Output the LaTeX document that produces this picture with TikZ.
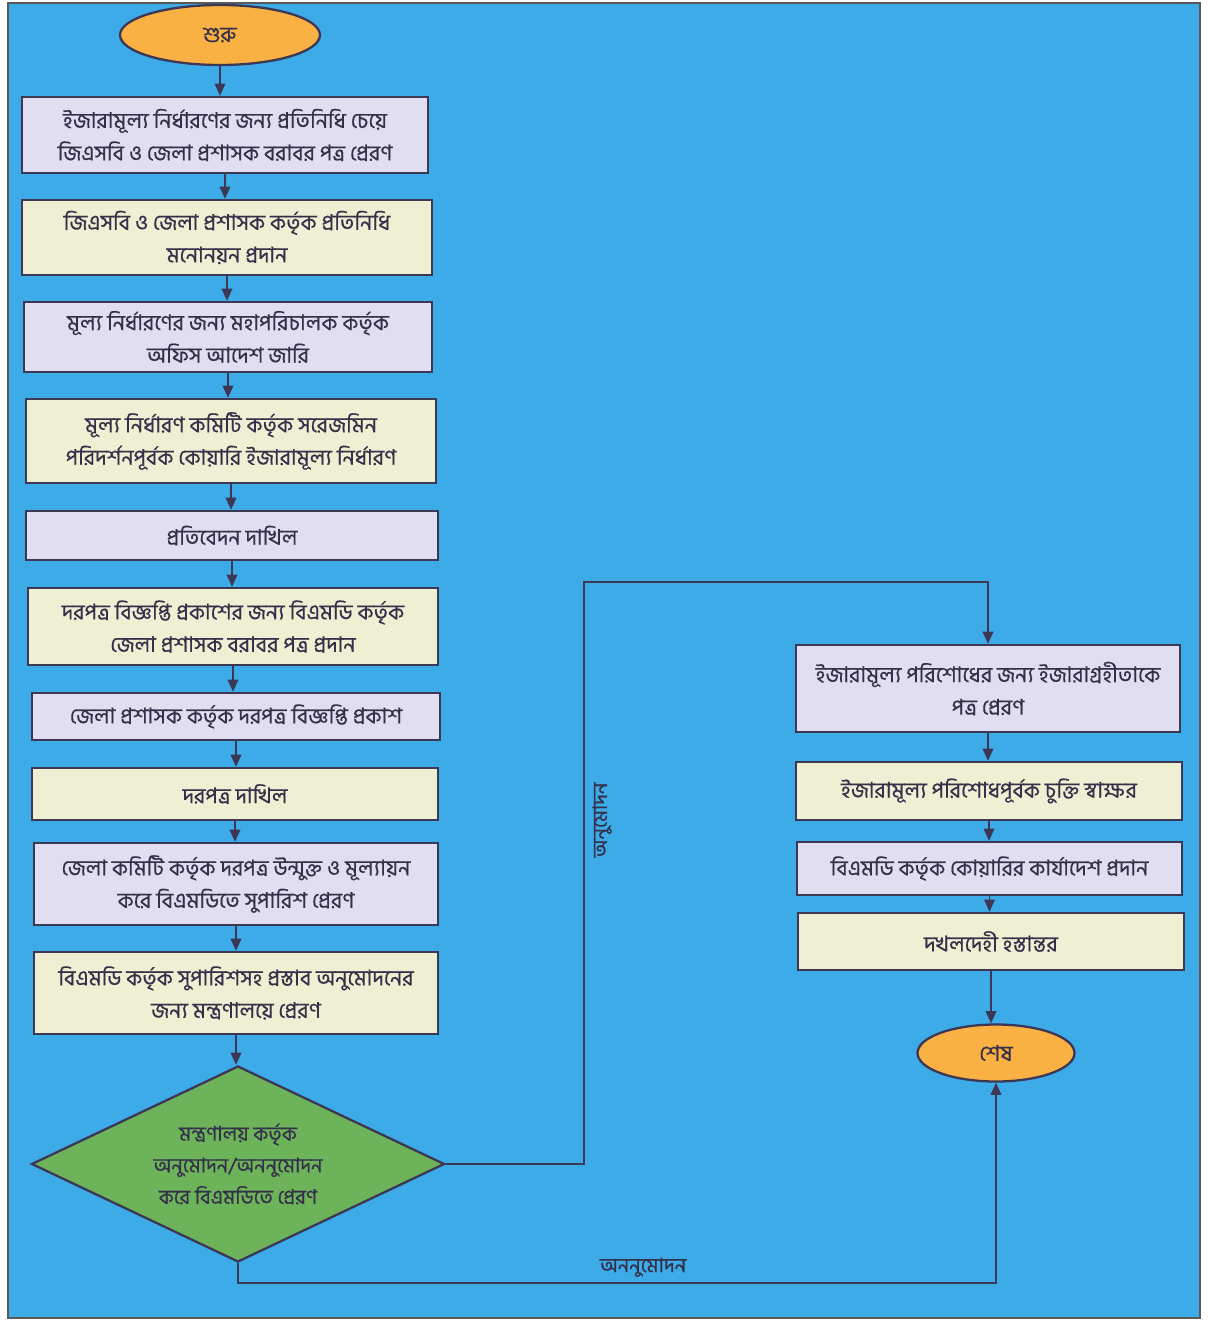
\documentclass[tikz,border=0pt]{standalone}
\usepackage{fontspec}
\setmainfont[Script=Bengali,FakeBold=0.4]{Hind Siliguri}
\usetikzlibrary{shapes.geometric,arrows.meta}
\definecolor{bgblue}{HTML}{3CABE8}
\definecolor{lav}{HTML}{E1DEF2}
\definecolor{beige}{HTML}{EFEFD3}
\definecolor{dgreen}{HTML}{6DB35A}
\definecolor{orng}{HTML}{F8B142}
\definecolor{lnc}{HTML}{3D3756}
\definecolor{txc}{HTML}{35304A}
\newcommand{\bx}[7]{\node[box,fill=#6,minimum width={(#4-#2)*0.02cm},minimum height={(#5-#3)*0.02cm}] (#1) at ({(#2+#4)/2},{(#3+#5)/2}) {#7};}
\begin{document}
\begin{tikzpicture}[x=0.02cm,y=-0.02cm,
  box/.style={draw=lnc,line width=1.3pt,rectangle,inner sep=0pt,align=center,text=txc,font=\fontsize{12.3}{18.5}\selectfont},
  term/.style={draw=lnc,line width=1.3pt,ellipse,fill=orng,inner sep=0pt,text=txc,font=\fontsize{12.3}{14}\selectfont},
  dec/.style={draw=lnc,line width=1.3pt,diamond,fill=dgreen,inner sep=0pt,aspect=2.1,align=center,text=txc,font=\fontsize{11.5}{18}\selectfont},
  arr/.style={draw=lnc,line width=1.1pt,-{Triangle[length=7pt,width=6pt]}},
  lbl/.style={text=txc,font=\fontsize{11.5}{13}\selectfont,inner sep=1pt}]
\useasboundingbox (0,0) rectangle (1212,1324);
\fill[white] (0,0) rectangle (1212,1324);
\draw[fill=bgblue,draw=gray!70!black,line width=0.6pt] (8,3) rectangle (1200,1318);
% start
\node[term,minimum width=200*0.02cm,minimum height=60*0.02cm] (start) at (220,35) {শুরু};
% left column
\bx{b1}{22}{97}{428}{173}{lav}{ইজারামূল্য নির্ধারণের জন্য প্রতিনিধি চেয়ে\\জিএসবি ও জেলা প্রশাসক বরাবর পত্র প্রেরণ}
\bx{b2}{22}{200}{432}{275}{beige}{জিএসবি ও জেলা প্রশাসক কর্তৃক প্রতিনিধি\\মনোনয়ন প্রদান}
\bx{b3}{24}{302}{432}{372}{lav}{মূল্য নির্ধারণের জন্য মহাপরিচালক কর্তৃক\\অফিস আদেশ জারি}
\bx{b4}{26}{399}{436}{483}{beige}{মূল্য নির্ধারণ কমিটি কর্তৃক সরেজমিন\\পরিদর্শনপূর্বক কোয়ারি ইজারামূল্য নির্ধারণ}
\bx{b5}{26}{511}{438}{560}{lav}{প্রতিবেদন দাখিল}
\bx{b6}{28}{588}{438}{665}{beige}{দরপত্র বিজ্ঞপ্তি প্রকাশের জন্য বিএমডি কর্তৃক\\জেলা প্রশাসক বরাবর পত্র প্রদান}
\bx{b7}{32}{693}{440}{740}{lav}{জেলা প্রশাসক কর্তৃক দরপত্র বিজ্ঞপ্তি প্রকাশ}
\bx{b8}{32}{768}{438}{820}{beige}{দরপত্র দাখিল}
\bx{b9}{34}{843}{438}{925}{lav}{জেলা কমিটি কর্তৃক দরপত্র উন্মুক্ত ও মূল্যায়ন\\করে বিএমডিতে সুপারিশ প্রেরণ}
\bx{b10}{34}{952}{438}{1034}{beige}{বিএমডি কর্তৃক সুপারিশসহ প্রস্তাব অনুমোদনের\\জন্য মন্ত্রণালয়ে প্রেরণ}
\node[dec,minimum width=413*0.02cm,minimum height=196*0.02cm] (dia) at (238,1164) {মন্ত্রণালয় কর্তৃক\\অনুমোদন/অননুমোদন\\করে বিএমডিতে প্রেরণ};
% right column
\bx{r1}{796}{645}{1180}{732}{lav}{ইজারামূল্য পরিশোধের জন্য ইজারাগ্রহীতাকে\\পত্র প্রেরণ}
\bx{r2}{796}{762}{1182}{820}{beige}{ইজারামূল্য পরিশোধপূর্বক চুক্তি স্বাক্ষর}
\bx{r3}{797}{842}{1182}{895}{lav}{বিএমডি কর্তৃক কোয়ারির কার্যাদেশ প্রদান}
\bx{r4}{798}{913}{1184}{970}{beige}{দখলদেহী হস্তান্তর}
\node[term,minimum width=157*0.02cm,minimum height=57*0.02cm] (end) at (996,1053) {শেষ};
% connectors
\foreach \a/\b in {start/b1,b1/b2,b2/b3,b3/b4,b4/b5,b5/b6,b6/b7,b7/b8,b8/b9,b9/b10,b10/dia,r1/r2,r2/r3,r3/r4,r4/end}
  \draw[arr] (\a.south) -- (\a.south |- \b.north);
\coordinate (c1) at (584,1164);
\coordinate (c2) at (584,582);
\coordinate (c3) at (r1.north |- c2);
\draw[arr] (dia.east) -- (dia.east -| c1) -- (c2) -- (c3) -- (r1.north);
\node[lbl,rotate=90] (lapp) at (602,820) {অনুমোদন};
\coordinate (d1) at (238,1283);
\coordinate (d2) at (end.south |- d1);
\draw[arr] (dia.south) -- (dia.south |- d1) -- (d2) -- (end.south);
\node[lbl,anchor=south] (lrej) at (643,1279) {অননুমোদন};
\end{tikzpicture}
\end{document}
